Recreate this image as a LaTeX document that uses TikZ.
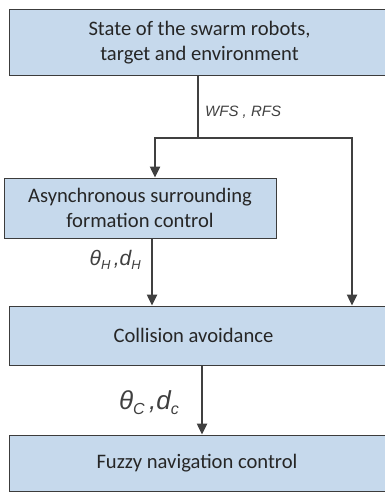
\documentclass[tikz,border=0pt]{standalone}
\usepackage{fontspec}
\setmainfont{Carlito}
\newfontfamily\labfont{Liberation Sans}
\usetikzlibrary{arrows.meta}
\definecolor{boxfill}{RGB}{198,217,236}
\definecolor{boxline}{RGB}{60,60,60}
\definecolor{arrcol}{RGB}{64,64,64}
\begin{document}
\begin{tikzpicture}[x=1pt,y=1pt,
  blk/.style={draw=boxline,line width=1pt,fill=boxfill,inner sep=0pt,align=center,font=\fontsize{20.6}{25}\selectfont,text=black!85},
  conn/.style={draw=arrcol,line width=2.4pt},
  arr/.style={conn,-{Triangle[length=11pt,width=10pt]}},
  lab/.style={text=black!75,inner sep=0pt}]
\useasboundingbox (0,0) rectangle (385,-492);
\node[blk,minimum width=381,minimum height=66] (b1) at (199.5,-43) {State of the swarm robots,\\target and environment};
\node[blk,minimum width=272,minimum height=60] (b2) at (140,-208) {Asynchronous surrounding\\formation control};
\node[blk,minimum width=381,minimum height=59] (b3) at (199.5,-335.5) {\hspace*{-12pt}Collision avoidance};
\node[blk,minimum width=381,minimum height=56] (b4) at (199.5,-463) {\hspace*{-5pt}Fuzzy navigation control};
\coordinate (j) at (198,-138);
\coordinate (jl) at (155,-138);
\coordinate (jr) at (352,-138);
\coordinate (a2) at (152,-250);
\coordinate (a3) at (202,-400);
\draw[conn] (j |- b1.south) -- (j);
\draw[arr] (j) -- (jl) -- (jl |- b2.north);
\draw[arr] (j) -- (jr) -- (jr |- b3.north);
\draw[arr] (a2 |- b2.south) -- (a2 |- b3.north);
\draw[arr] (a3 |- b3.south) -- (a3 |- b4.north);
\node[lab,anchor=west,font=\labfont\itshape\fontsize{15}{18}\selectfont] (l1) at (205,-112) {WFS , RFS};
\node[lab,anchor=east,font=\labfont\itshape\fontsize{21}{24}\selectfont] (l2) at (141,-260) {θ\raisebox{-4pt}{\fontsize{13}{14}\selectfont H}\,,d\raisebox{-4pt}{\fontsize{13}{14}\selectfont H}};
\node[lab,anchor=east,font=\labfont\itshape\fontsize{26}{29}\selectfont] (l3) at (179,-403) {θ\raisebox{-5pt}{\fontsize{16}{18}\selectfont C}\,,d\raisebox{-5pt}{\fontsize{16}{18}\selectfont c}};
\end{tikzpicture}
\end{document}
